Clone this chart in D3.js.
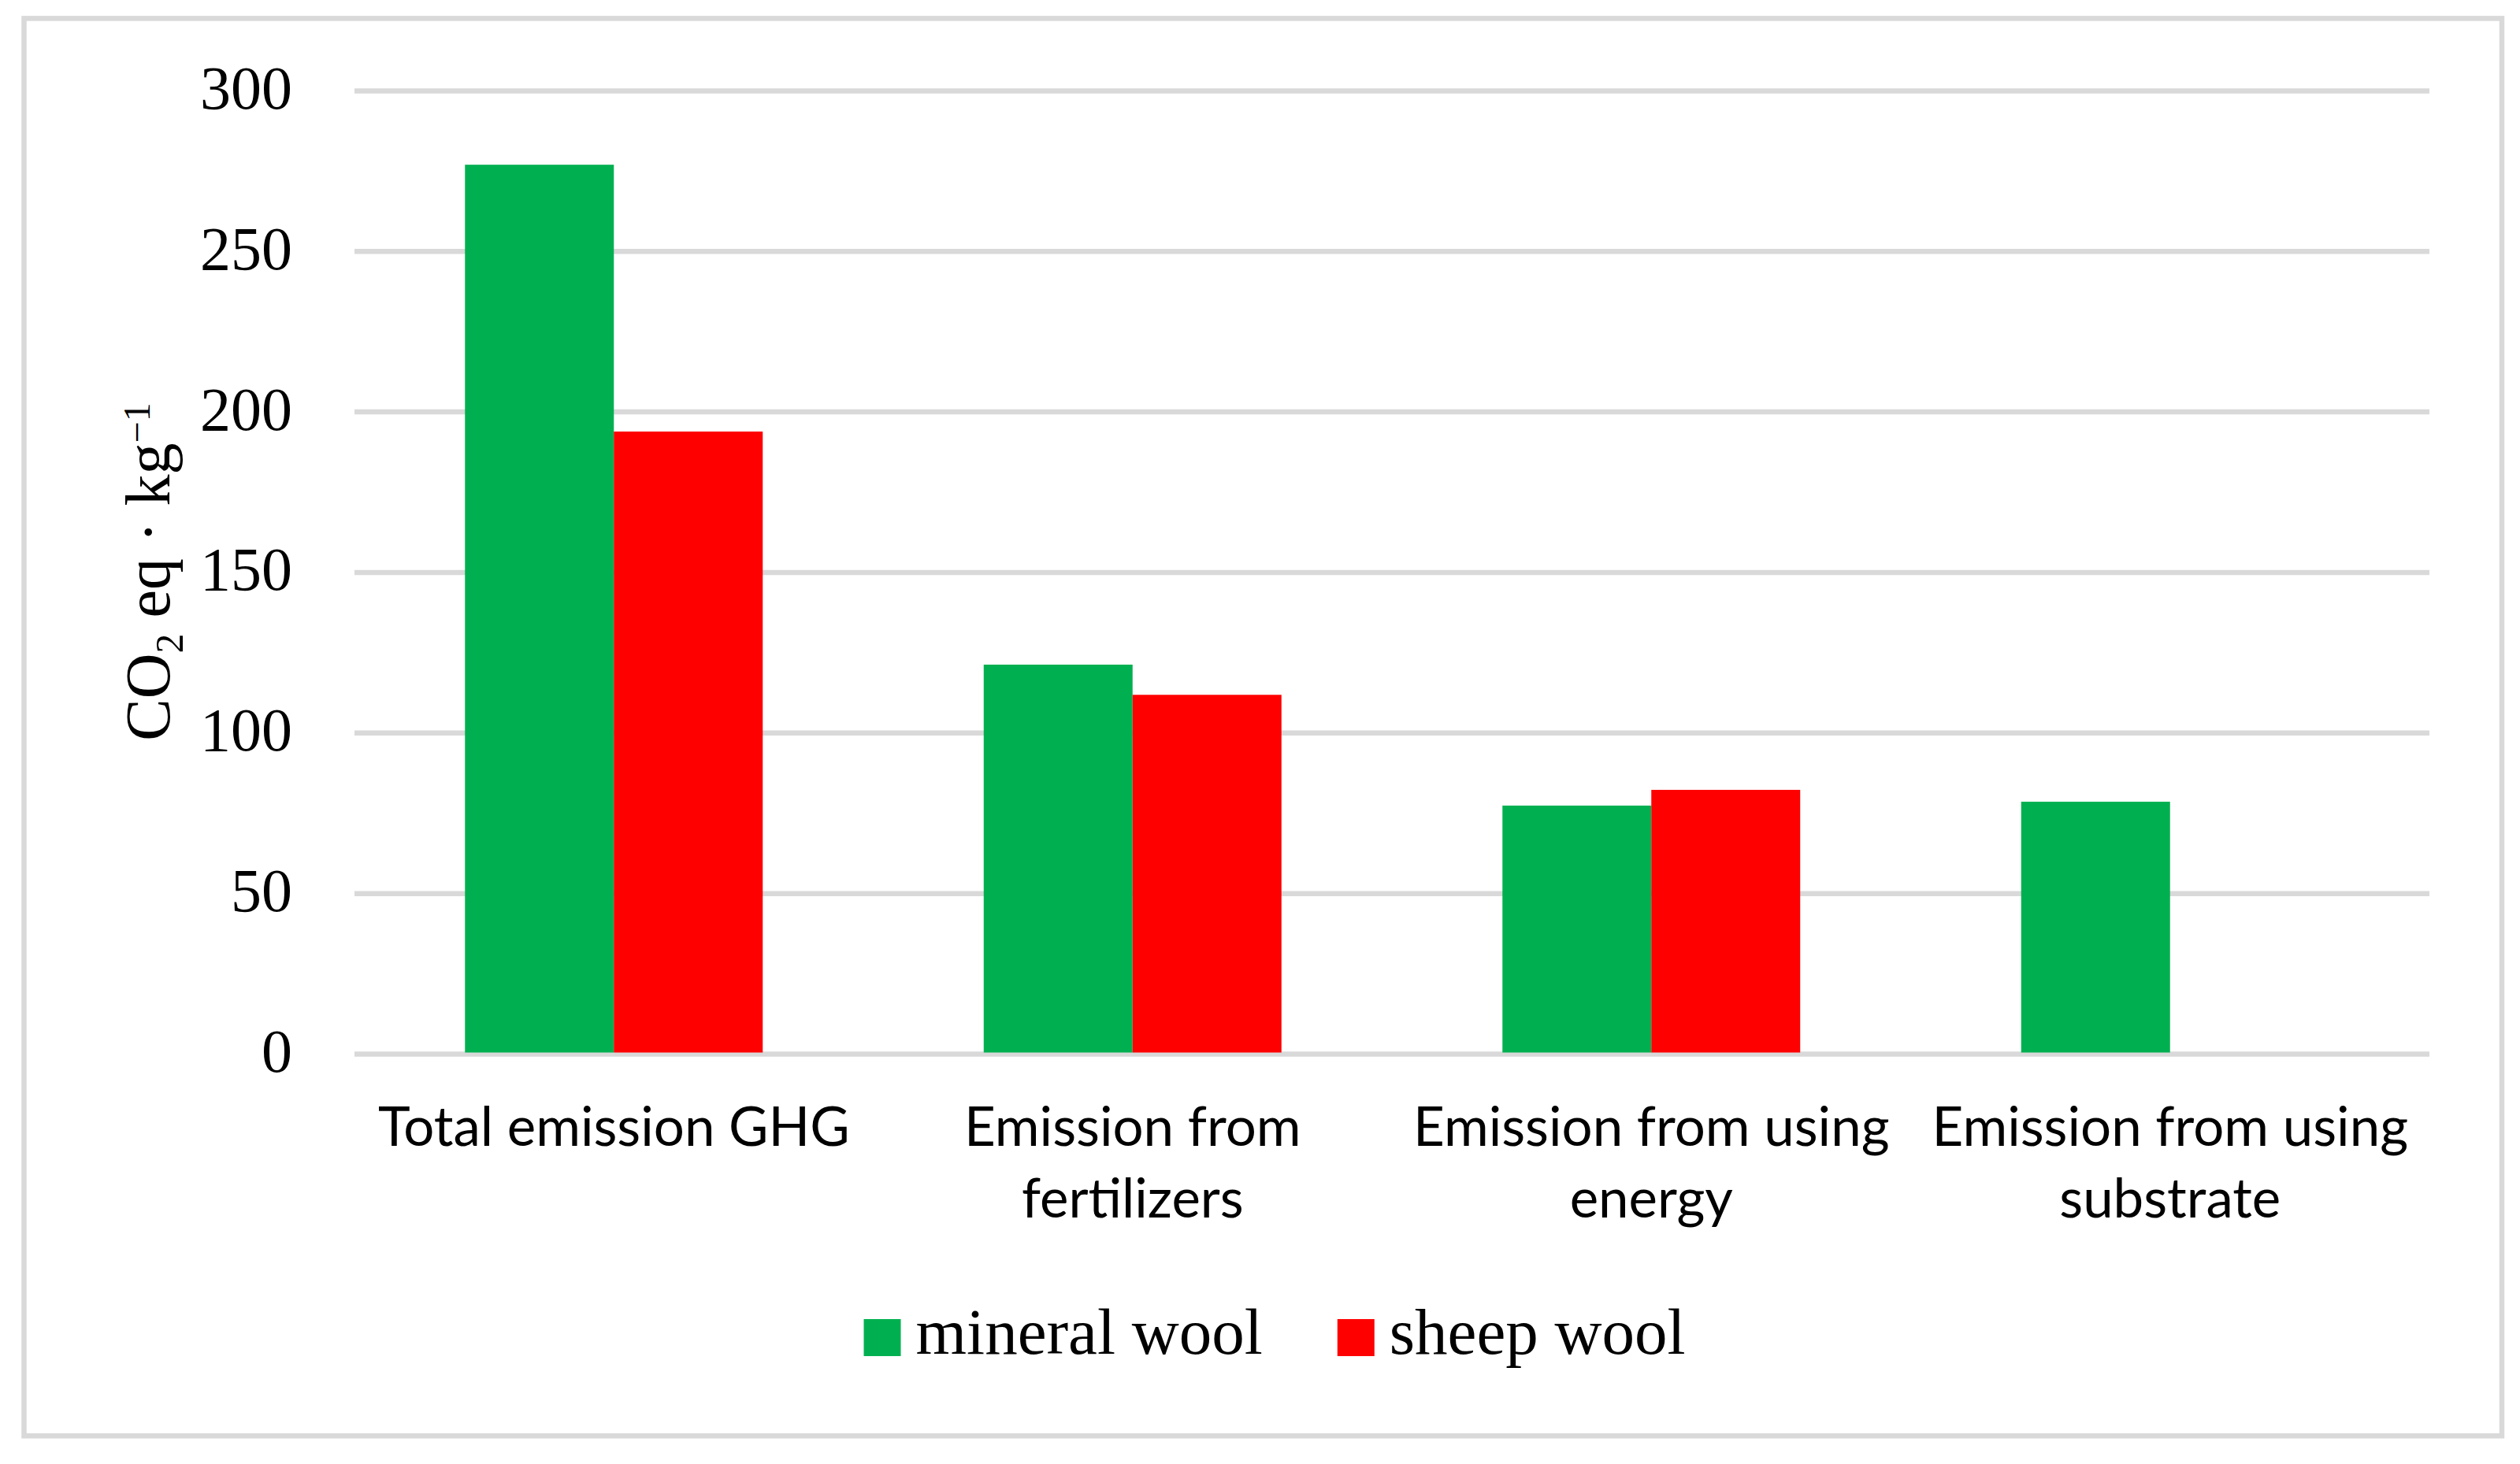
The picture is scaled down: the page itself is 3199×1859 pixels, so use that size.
<!DOCTYPE html>
<html>
<head>
<meta charset="utf-8">
<script src="https://cdn.jsdelivr.net/npm/d3@7"></script>
<style>
  html, body { margin: 0; padding: 0; background: #ffffff; }
  svg { display: block; }
</style>
</head>
<body>
<svg id="chart" width="3199" height="1859"></svg>
<script>
// ---- data ----
const categories = ["Total emission GHG", "Emission from fertilizers", "Emission from using energy", "Emission from using substrate"];
const categoryLines = [["Total emission GHG"], ["Emission from", "fertilizers"], ["Emission from using", "energy"], ["Emission from using", "substrate"]];
const seriesNames = ["mineral wool", "sheep wool"];
const mineralWool = [277.0, 121.3, 77.4, 78.6];
const sheepWool = [193.9, 111.9, 82.3, null];
const seriesColors = ["#00B050", "#FF0000"];
const yTicks = [0, 50, 100, 150, 200, 250, 300];

// ---- layout ----
const plot = { left: 450, right: 3084, top: 115.4, bottom: 1338.5 };
const svg = d3.select("#chart");

// outer border
svg.append("rect")
  .attr("x", 30.5).attr("y", 23.4)
  .attr("width", 3176 - 30.5).attr("height", 1823.3 - 23.4)
  .attr("fill", "#ffffff").attr("stroke", "#D9D9D9").attr("stroke-width", 6.5);

const y = d3.scaleLinear().domain([0, 300]).range([plot.bottom, plot.top]);
const x0 = d3.scaleBand().domain(categories).range([plot.left, plot.right])
  .paddingInner(0.426).paddingOuter(0.213);
const x1 = d3.scaleBand().domain(seriesNames).range([0, x0.bandwidth()]);

// gridlines
svg.append("g").selectAll("line").data(yTicks).join("line")
  .attr("x1", plot.left).attr("x2", plot.right)
  .attr("y1", d => y(d)).attr("y2", d => y(d))
  .attr("stroke", "#D9D9D9").attr("stroke-width", 6.5);

// y axis labels via d3 axis
const yAxis = d3.axisLeft(y).tickValues(yTicks).tickSize(0).tickPadding(0).tickFormat(d3.format("d"));
const gy = svg.append("g").attr("transform", `translate(371,0)`).call(yAxis);
gy.select(".domain").remove();
gy.selectAll("text")
  .attr("font-family", "'Liberation Serif', 'Times New Roman', serif")
  .attr("font-size", 78).attr("fill", "#000").attr("dy", 22).attr("dx", 0)
  .attr("text-anchor", "end");

// bars
const rows = categories.map((c, i) => ({ cat: c, vals: [mineralWool[i], sheepWool[i]] }));
const groups = svg.append("g").selectAll("g").data(rows).join("g")
  .attr("transform", d => `translate(${x0(d.cat)},0)`);
groups.selectAll("rect")
  .data(d => d.vals.map((v, j) => ({ name: seriesNames[j], v, j })).filter(e => e.v !== null))
  .join("rect")
  .attr("x", d => x1(d.name))
  .attr("width", x1.bandwidth())
  .attr("y", d => y(d.v))
  .attr("height", d => y(0) - y(d.v) - 2)
  .attr("fill", d => seriesColors[d.j]);

// category labels
const catFont = "Lato, 'Open Sans', sans-serif";
const lab = svg.append("g").selectAll("text").data(categories).join("text")
  .attr("font-family", catFont).attr("font-size", 69).attr("fill", "#000")
  .attr("text-anchor", "middle")
  .attr("transform", d => `translate(${x0(d) + x0.bandwidth() / 2},1455)`);
lab.selectAll("tspan").data((d, i) => categoryLines[i]).join("tspan")
  .attr("x", 0).attr("y", (d, k) => k * 91).text(d => d);

// y-axis title
const title = svg.append("text")
  .attr("transform", "translate(215,726) rotate(-90)")
  .attr("text-anchor", "middle")
  .attr("font-family", "'Liberation Serif', 'Times New Roman', serif")
  .attr("font-size", 80).attr("fill", "#000");
title.append("tspan").text("CO");
title.append("tspan").attr("font-size", 50).attr("dy", 17).text("2");
title.append("tspan").attr("dy", -17).text(" eq · kg");
title.append("tspan").attr("font-size", 48).attr("dy", -25).text("−1");

// legend
const legFont = "'Liberation Serif', 'Times New Roman', serif";
const leg = svg.append("g");
let lx = 0;
seriesNames.forEach((name, i) => {
  const g = leg.append("g").attr("transform", `translate(${lx},0)`);
  g.append("rect").attr("x", 0).attr("y", 1675).attr("width", 47).attr("height", 47).attr("fill", seriesColors[i]);
  const t = g.append("text").attr("x", 66).attr("y", 1719)
    .attr("font-family", legFont).attr("font-size", 83).attr("fill", "#000").text(name);
  const w = t.node().getComputedTextLength();
  lx += 66 + w + 95;
});
const legW = lx - 95;
leg.attr("transform", `translate(${1618 - legW / 2},0)`);
</script>
</body>
</html>
